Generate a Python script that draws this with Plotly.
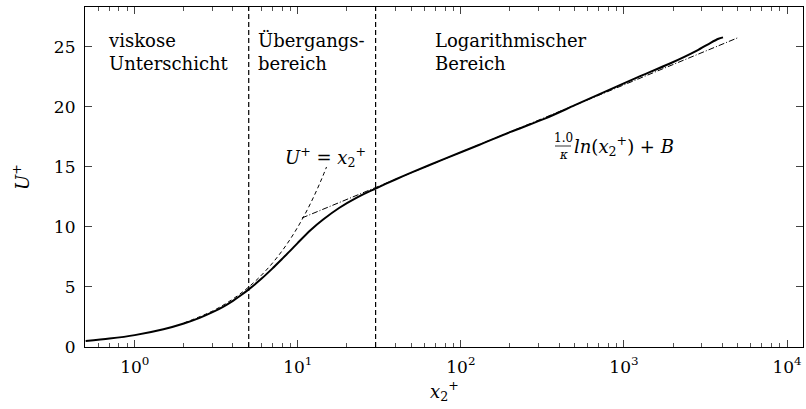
import plotly.graph_objects as go

# main velocity profile U+ over x2+
prof_x = [0.5, 0.7, 1.0, 1.5, 2.0, 2.5, 3.0, 3.5, 4.0, 4.5, 5.0, 6.0, 7.0, 8.0, 9.0, 10.0, 12.0,
          14.3, 18.0, 23.0, 30.0, 40.0, 50.0, 80.0, 130.0, 200.0, 330.0, 500.0, 750.0, 1200.0,
          1900.0, 2800.0, 3400.0, 3800.0, 4050.0]
prof_u = [0.5, 0.7, 0.99, 1.48, 1.96, 2.43, 2.9, 3.37, 3.85, 4.33, 4.8, 5.7, 6.55, 7.33, 8.03, 8.68, 9.75,
          10.62, 11.6, 12.45, 13.2, 13.98, 14.55, 15.7, 16.85, 17.9, 19.05, 20.15, 21.22, 22.45,
          23.6, 24.7, 25.35, 25.68, 25.8]

# viscous sublayer U+ = x2+
visc_x = [2.0, 3.0, 4.0, 5.0, 6.0, 7.0, 8.0, 9.0, 10.0, 11.0, 12.0, 13.0, 14.0, 15.0]
visc_u = [2.0, 3.0, 4.0, 5.0, 6.0, 7.0, 8.0, 9.0, 10.0, 11.0, 12.0, 13.0, 14.0, 15.0]

# log law
log_x = [10.6, 100.0, 1000.0, 5000.0]
log_u = [10.75, 16.22, 21.84, 25.77]

# region borders
border_x = [5, 30]

xtick_vals = [1, 10, 100, 1000, 10000]
xtick_text = ["10<sup>0</sup>", "10<sup>1</sup>", "10<sup>2</sup>", "10<sup>3</sup>", "10<sup>4</sup>"]
ytick_vals = [0, 5, 10, 15, 20, 25]

FONT = "DejaVu Serif"

fig = go.Figure()
fig.add_trace(go.Scatter(x=visc_x, y=visc_u, mode="lines", line_shape="spline",
                         line=dict(color="black", width=1, dash="4px,3px"), hoverinfo="skip"))
fig.add_trace(go.Scatter(x=log_x, y=log_u, mode="lines",
                         line=dict(color="black", width=1, dash="6px,2px,1px,2px"), hoverinfo="skip"))
fig.add_trace(go.Scatter(x=prof_x, y=prof_u, mode="lines", line_shape="spline",
                         line=dict(color="black", width=2, smoothing=0.8), hoverinfo="skip"))

for bx in border_x:
    fig.add_shape(type="line", xref="x", yref="paper", x0=bx, x1=bx, y0=0, y1=1,
                  line=dict(color="black", width=1.2, dash="5px,3px"))

W, H = 806, 409
L, R, T, B = 85, 3, 7, 62
pw, ph = W - L - R, H - T - B

def px(xp):
    return (xp - L) / pw

def py(yp):
    return (H - B - yp) / ph

ann = [
    dict(text="viskose<br>Unterschicht", x=px(106), y=py(52), xanchor="left", yanchor="middle", align="left"),
    dict(text="Übergangs-<br>bereich", x=px(256), y=py(52), xanchor="left", yanchor="middle", align="left"),
    dict(text="Logarithmischer<br>Bereich", x=px(433), y=py(52), xanchor="left", yanchor="middle", align="left"),
    dict(text="<i>U</i><sup>+</sup> = <i>x</i><sub>2</sub><sup>+</sup>", x=px(325), y=py(157),
         xanchor="center", yanchor="middle"),
    dict(text="1.0", x=px(563), y=py(138), xanchor="center", yanchor="middle", size=12),
    dict(text="<i>κ</i>", x=px(563), y=py(155), xanchor="center", yanchor="middle", size=12),
    dict(text="<i>ln</i>(<i>x</i><sub>2</sub><sup>+</sup>) + <i>B</i>", x=px(572), y=py(146),
         xanchor="left", yanchor="middle"),
    dict(text="<i>x</i><sub>2</sub><sup>+</sup>", x=px(444), y=py(391), xanchor="center", yanchor="middle"),
    dict(text="<i>U</i><sup>+</sup>", x=px(21), y=py(177), xanchor="center", yanchor="middle", textangle=-90),
]
for a in ann:
    size = a.pop("size", 18)
    fig.add_annotation(xref="paper", yref="paper", showarrow=False,
                       font=dict(family=FONT, size=size, color="black"), **a)

fig.add_shape(type="line", xref="paper", yref="paper", x0=px(555), x1=px(571), y0=py(146), y1=py(146),
              line=dict(color="black", width=0.8))

fig.update_layout(
    width=W, height=H, margin=dict(l=L, r=R, t=T, b=B),
    paper_bgcolor="white", plot_bgcolor="white", showlegend=False,
    font=dict(family=FONT, size=17, color="black"),
    xaxis=dict(type="log", range=[-0.305, 4.098], showgrid=False, zeroline=False,
               showline=True, linecolor="black", linewidth=1.2, mirror="allticks",
               ticks="inside", ticklen=7, tickwidth=0.8, tickcolor="#444",
               tickvals=xtick_vals, ticktext=xtick_text, ticklabelstandoff=4,
               tickfont=dict(family=FONT, size=17),
               minor=dict(ticks="inside", ticklen=4, tickwidth=0.8, tickcolor="#555",
                          dtick="D1", showgrid=False)),
    yaxis=dict(range=[0, 28.33], showgrid=False, zeroline=False,
               showline=True, linecolor="black", linewidth=1.2, mirror="allticks",
               ticks="inside", ticklen=7, tickwidth=0.8, tickcolor="#444",
               tickvals=ytick_vals, ticklabelstandoff=5, tickfont=dict(family=FONT, size=17)),
)

fig.write_html("out.html")
